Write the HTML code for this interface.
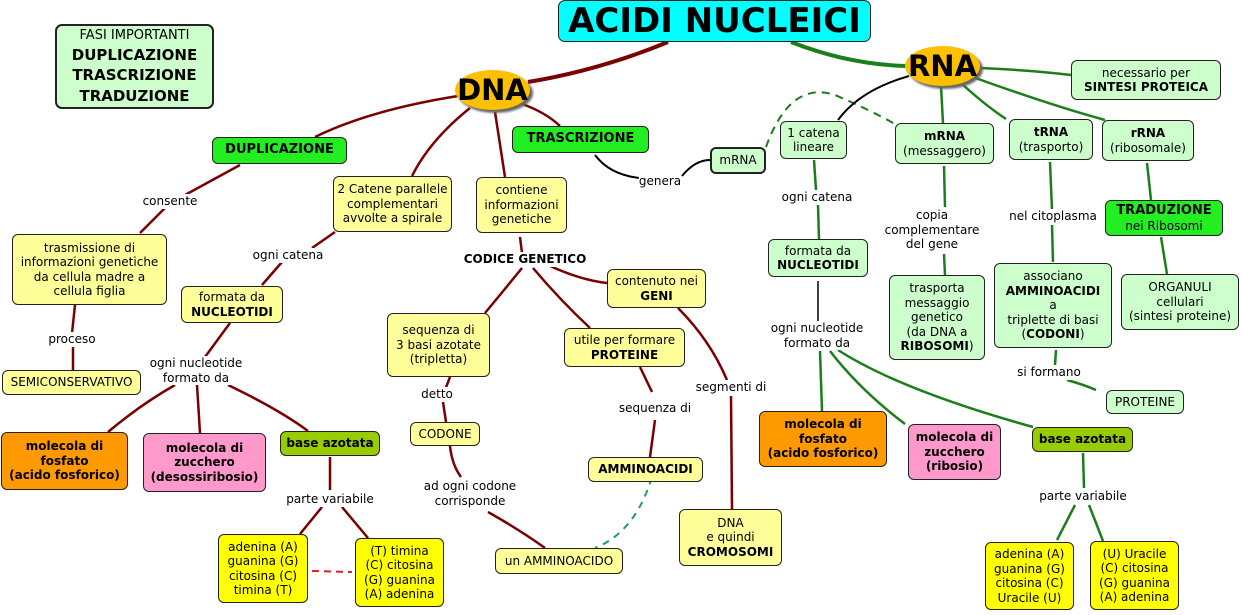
<!DOCTYPE html>
<html><head><meta charset="utf-8"><style>
body{margin:0;width:1242px;height:615px;background:#fff;position:relative;overflow:hidden;font-family:"DejaVu Sans","Liberation Sans",sans-serif}
.b{position:absolute;display:flex;align-items:center;justify-content:center;text-align:center;border:1px solid #222;border-radius:6px;font-size:12px;line-height:14.5px;box-sizing:border-box;color:#000}
.y{background:#ffff99}.g{background:#ccffcc}.G{background:#22ee22;font-weight:bold;font-size:13px}.Y{background:#ffff00}
.l{position:absolute;font-size:12px;line-height:14.5px;text-align:center;transform:translateX(-50%);white-space:nowrap;background:#fff;color:#000}
.e{position:absolute;border-radius:50%;background:#ffc000;box-shadow:3px 3px 2px #666;display:flex;align-items:center;justify-content:center;font-weight:bold;font-size:29px}
b{font-weight:bold}
</style></head><body>
<svg width="1242" height="615" style="position:absolute;left:0;top:0" fill="none">
<g stroke="#7a0000" stroke-width="2.5">
<path d="M668 42 Q600 70 528 82" stroke-width="4"/>
<path d="M458 96 Q370 110 315 137"/>
<path d="M470 108 Q430 140 412 176"/>
<path d="M495 112 L505 177"/>
<path d="M522 104 Q545 112 560 126"/>
<path d="M240 165 L185 195"/><path d="M165 208 L140 233"/>
<path d="M335 232 L312 248"/><path d="M282 262 L262 285"/>
<path d="M230 323 L205 357"/>
<path d="M75 305 L72 333"/><path d="M73 346 L73 370"/>
<path d="M175 385 Q140 405 108 432"/><path d="M197 385 L200 433"/><path d="M228 385 Q280 410 308 431"/>
<path d="M330 457 L330 490"/>
<path d="M322 507 L300 534"/><path d="M342 507 L368 538"/>
<path d="M520 237 L522 253"/>
<path d="M522 268 Q500 295 485 313"/><path d="M533 268 Q560 300 590 328"/><path d="M548 265 Q580 280 607 283"/>
<path d="M450 377 L445 390"/><path d="M443 402 L446 422"/>
<path d="M450 446 Q452 465 461 477"/><path d="M488 512 Q520 530 545 548"/>
<path d="M640 367 L652 392"/><path d="M655 420 L650 457"/>
<path d="M678 308 Q710 340 727 380"/><path d="M731 396 L732 509"/>
</g>
<path d="M312 571 L352 572" stroke="#e02020" stroke-width="2" stroke-dasharray="7,5"/>
<g stroke="#1a7f1a" stroke-width="2.5">
<path d="M791 42 Q850 65 908 66" stroke-width="4"/>
<path d="M978 68 Q1030 70 1071 75"/>
<path d="M941 86 L943 123"/>
<path d="M962 84 Q985 105 1006 119"/>
<path d="M970 76 Q1050 105 1105 120"/>
<path d="M814 160 L816 190"/><path d="M818 205 L819 239"/>
<path d="M944 166 L945 207"/><path d="M944 254 L945 275"/>
<path d="M1050 162 L1052 210"/><path d="M1052 225 L1053 262"/>
<path d="M1147 163 L1151 200"/><path d="M1161 237 L1167 274"/>
<path d="M1056 350 L1055 365"/><path d="M1067 380 Q1085 385 1096 390"/>
<path d="M820 351 L822 411"/><path d="M830 351 Q860 390 905 424"/><path d="M838 350 Q900 390 1033 427"/>
<path d="M1083 453 L1084 488"/>
<path d="M1075 505 L1057 540"/><path d="M1089 505 L1103 541"/>
</g>
<path d="M766 147 Q790 80 835 95 Q870 110 895 124" stroke="#1a7f1a" stroke-width="2" stroke-dasharray="8,6"/>
<path d="M655 465 Q640 530 595 548" stroke="#2a9a5a" stroke-width="2" stroke-dasharray="7,6"/>
<g stroke="#000" stroke-width="2">
<path d="M909 76 Q860 90 838 120"/>
<path d="M595 155 Q610 175 640 178"/><path d="M682 176 Q695 160 710 160"/>
<path d="M818 331 L818 281" stroke-width="1.5"/>
</g>
</svg>

<div class="b" style="left:558px;top:0;width:313px;height:42px;background:#00ffff;font-size:34px;font-weight:bold;border-radius:7px">ACIDI NUCLEICI</div>
<div class="b g" style="left:55px;top:24px;width:159px;height:85px;border:2px solid #222;font-size:13px;line-height:19.5px;border-radius:7px"><div>FASI IMPORTANTI<br><b style="font-size:15px">DUPLICAZIONE<br>TRASCRIZIONE<br>TRADUZIONE</b></div></div>
<div class="e" style="left:455px;top:70px;width:75px;height:40px">DNA</div>
<div class="e" style="left:905px;top:46px;width:75px;height:40px">RNA</div>

<div class="b G" style="left:212px;top:137px;width:135px;height:27px">DUPLICAZIONE</div>
<div class="b G" style="left:512px;top:126px;width:137px;height:27px">TRASCRIZIONE</div>
<div class="b y" style="left:333px;top:176px;width:119px;height:56px">2 Catene parallele<br>complementari<br>avvolte a spirale</div>
<div class="b y" style="left:476px;top:177px;width:91px;height:56px">contiene<br>informazioni<br>genetiche</div>
<div class="b y" style="left:12px;top:234px;width:155px;height:71px">trasmissione di<br>informazioni genetiche<br>da cellula madre a<br>cellula figlia</div>
<div class="b y" style="left:181px;top:286px;width:102px;height:37px"><div>formata da<br><b>NUCLEOTIDI</b></div></div>
<div class="b y" style="left:2px;top:370px;width:139px;height:25px">SEMICONSERVATIVO</div>
<div class="b y" style="left:607px;top:269px;width:99px;height:39px"><div>contenuto nei<br><b>GENI</b></div></div>
<div class="b y" style="left:387px;top:313px;width:103px;height:64px">sequenza di<br>3 basi azotate<br>(tripletta)</div>
<div class="b y" style="left:564px;top:328px;width:121px;height:39px"><div>utile per formare<br><b>PROTEINE</b></div></div>
<div class="b y" style="left:410px;top:422px;width:70px;height:24px">CODONE</div>
<div class="b y" style="left:588px;top:457px;width:115px;height:25px"><b>AMMINOACIDI</b></div>
<div class="b y" style="left:495px;top:548px;width:128px;height:26px">un AMMINOACIDO</div>
<div class="b y" style="left:679px;top:509px;width:103px;height:57px"><div>DNA<br>e quindi<br><b>CROMOSOMI</b></div></div>
<div class="b" style="left:1px;top:432px;width:127px;height:58px;background:#ff9900;font-weight:bold">molecola di<br>fosfato<br>(acido fosforico)</div>
<div class="b" style="left:143px;top:433px;width:123px;height:59px;background:#ff99cc;font-weight:bold">molecola di<br>zucchero<br>(desossiribosio)</div>
<div class="b" style="left:280px;top:431px;width:100px;height:25px;background:#99cc00;font-weight:bold">base azotata</div>
<div class="b Y" style="left:218px;top:534px;width:90px;height:69px">adenina (A)<br>guanina (G)<br>citosina (C)<br>timina (T)</div>
<div class="b Y" style="left:355px;top:538px;width:89px;height:69px">(T) timina<br>(C) citosina<br>(G) guanina<br>(A) adenina</div>

<div class="b g" style="left:710px;top:147px;width:56px;height:27px;border:2px solid #222">mRNA</div>
<div class="b g" style="left:780px;top:121px;width:67px;height:38px">1 catena<br>lineare</div>
<div class="b g" style="left:895px;top:123px;width:99px;height:41px"><div><b>mRNA</b><br>(messaggero)</div></div>
<div class="b g" style="left:1009px;top:119px;width:84px;height:41px"><div><b>tRNA</b><br>(trasporto)</div></div>
<div class="b g" style="left:1102px;top:120px;width:92px;height:41px"><div><b>rRNA</b><br>(ribosomale)</div></div>
<div class="b g" style="left:1071px;top:60px;width:150px;height:40px"><div>necessario per<br><b>SINTESI PROTEICA</b></div></div>
<div class="b" style="left:1105px;top:200px;width:118px;height:36px;background:#22ee22"><div><b style="font-size:13px">TRADUZIONE</b><br>nei Ribosomi</div></div>
<div class="b g" style="left:768px;top:239px;width:100px;height:38px"><div>formata da<br><b>NUCLEOTIDI</b></div></div>
<div class="b g" style="left:889px;top:275px;width:96px;height:85px"><div>trasporta<br>messaggio<br>genetico<br>(da DNA a<br><b>RIBOSOMI</b>)</div></div>
<div class="b g" style="left:994px;top:263px;width:118px;height:85px"><div>associano<br><b>AMMINOACIDI</b><br>a<br>triplette di basi<br>(<b>CODONI</b>)</div></div>
<div class="b g" style="left:1121px;top:274px;width:118px;height:56px">ORGANULI<br>cellulari<br>(sintesi proteine)</div>
<div class="b g" style="left:1106px;top:390px;width:78px;height:24px">PROTEINE</div>
<div class="b" style="left:759px;top:411px;width:128px;height:56px;background:#ff9900;font-weight:bold">molecola di<br>fosfato<br>(acido fosforico)</div>
<div class="b" style="left:908px;top:424px;width:93px;height:56px;background:#ff99cc;font-weight:bold">molecola di<br>zucchero<br>(ribosio)</div>
<div class="b" style="left:1032px;top:427px;width:101px;height:25px;background:#99cc00;font-weight:bold">base azotata</div>
<div class="b Y" style="left:985px;top:542px;width:89px;height:68px">adenina (A)<br>guanina (G)<br>citosina (C)<br>Uracile (U)</div>
<div class="b Y" style="left:1090px;top:541px;width:89px;height:69px">(U) Uracile<br>(C) citosina<br>(G) guanina<br>(A) adenina</div>

<div class="l" style="left:170px;top:194px">consente</div>
<div class="l" style="left:288px;top:248px">ogni catena</div>
<div class="l" style="left:72px;top:332px">proceso</div>
<div class="l" style="left:196px;top:356px">ogni nucleotide<br>formato da</div>
<div class="l" style="left:330px;top:492px">parte variabile</div>
<div class="l" style="left:525px;top:252px;font-weight:bold">CODICE GENETICO</div>
<div class="l" style="left:437px;top:387px">detto</div>
<div class="l" style="left:470px;top:479px">ad ogni codone<br>corrisponde</div>
<div class="l" style="left:655px;top:401px">sequenza di</div>
<div class="l" style="left:731px;top:380px">segmenti di</div>
<div class="l" style="left:660px;top:174px">genera</div>
<div class="l" style="left:817px;top:190px">ogni catena</div>
<div class="l" style="left:932px;top:208px">copia<br>complementare<br>del gene</div>
<div class="l" style="left:1053px;top:209px">nel citoplasma</div>
<div class="l" style="left:817px;top:321px">ogni nucleotide<br>formato da</div>
<div class="l" style="left:1049px;top:365px">si formano</div>
<div class="l" style="left:1083px;top:489px">parte variabile</div>
</body></html>
